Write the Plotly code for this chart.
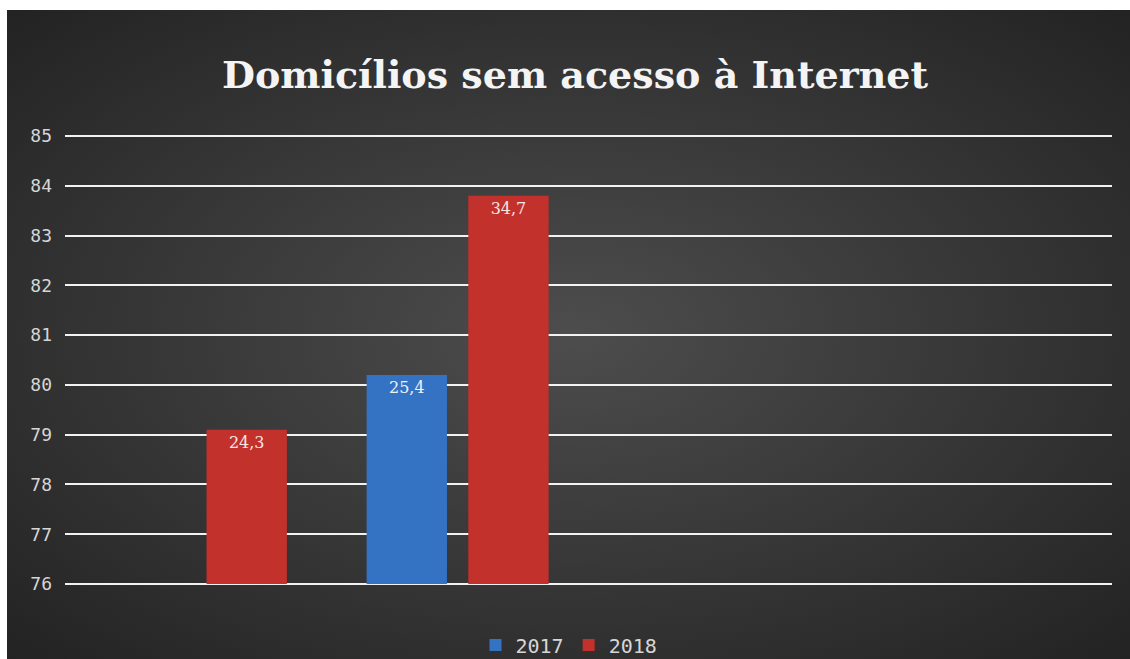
import plotly.graph_objects as go
import urllib.parse

# ---- data ----
categories = ["c1", "c2", "c3", "c4"]
values_2017 = [None, 80.2, None, None]
values_2018 = [79.1, 83.8, None, None]
labels_2017 = ["", "25,4", "", ""]
labels_2018 = ["24,3", "34,7", "", ""]
y_ticks = [76, 77, 78, 79, 80, 81, 82, 83, 84, 85]
title_text = "Domicílios sem acesso à Internet"

W, H = 1130, 659
ml, mr, mt, mb = 65, 18, 133, 72
pw, ph = W - ml - mr, H - mt - mb
pad = 0.06

svg = (
    "<svg xmlns='http://www.w3.org/2000/svg' width='1123' height='649' viewBox='0 0 1123 649' preserveAspectRatio='none'>"
    "<defs><radialGradient id='g' cx='50%' cy='50%' r='70%'>"
    "<stop offset='0%' stop-color='#4d4d4d'/>"
    "<stop offset='100%' stop-color='#232323'/>"
    "</radialGradient></defs>"
    "<rect width='1123' height='649' fill='url(#g)'/></svg>"
)
bg_src = "data:image/svg+xml;charset=utf-8," + urllib.parse.quote(svg)

base_val = min(y_ticks)

fig = go.Figure()
fig.add_trace(go.Bar(
    name="2017", x=categories, y=[None if v is None else v - base_val for v in values_2017],
    base=base_val, text=labels_2017,
    marker=dict(color="#3473c4", line=dict(width=0)),
    textposition="inside", insidetextanchor="end",
    textfont=dict(family="DejaVu Serif", size=16, color="#eef0f4"),
))
fig.add_trace(go.Bar(
    name="2018", x=categories, y=[None if v is None else v - base_val for v in values_2018],
    base=base_val, text=labels_2018,
    marker=dict(color="#c3312c", line=dict(width=0)),
    textposition="inside", insidetextanchor="end",
    textfont=dict(family="DejaVu Serif", size=16, color="#f4e6e4"),
))

x0 = (7 - ml) / pw
x1 = (W - ml) / pw
ytop = (mt + ph - 10) / ph
ybot = (mt + ph - H) / ph

fig.update_layout(
    width=W, height=H,
    margin=dict(l=ml, r=mr, t=mt, b=mb, autoexpand=False),
    paper_bgcolor="white",
    plot_bgcolor="rgba(0,0,0,0)",
    barmode="group", bargap=0.223, bargroupgap=0.21,
    title=dict(text=title_text, x=575 / W, xanchor="center", y=1 - 75 / H, yanchor="middle",
               font=dict(family="DejaVu Serif", size=38, color="#f4f4f4", weight="bold")),
    xaxis=dict(type="category", categoryorder="array", categoryarray=categories,
               showticklabels=False, showgrid=False, zeroline=False, showline=False, ticks=""),
    yaxis=dict(range=[min(y_ticks) - pad, max(y_ticks) + pad], tickvals=y_ticks,
               showgrid=True, gridcolor="#f2f2f2", gridwidth=2,
               zeroline=False, showline=False, ticks="", ticklabelstandoff=12,
               tickfont=dict(family="DejaVu Sans Mono", size=18, color="#d6d6d6")),
    legend=dict(orientation="h", x=(569 - ml) / pw, xanchor="center", y=(ph - (645 - mt)) / ph,
                yanchor="middle", font=dict(family="DejaVu Sans Mono", size=20, color="#d6d6d6"),
                bgcolor="rgba(0,0,0,0)", itemwidth=30, traceorder="normal"),
    images=[dict(source=bg_src, xref="paper", yref="paper", x=x0, y=ytop,
                 sizex=x1 - x0, sizey=ytop - ybot, xanchor="left", yanchor="top",
                 sizing="stretch", layer="below")],
    showlegend=True,
)

fig.write_html("out.html")
